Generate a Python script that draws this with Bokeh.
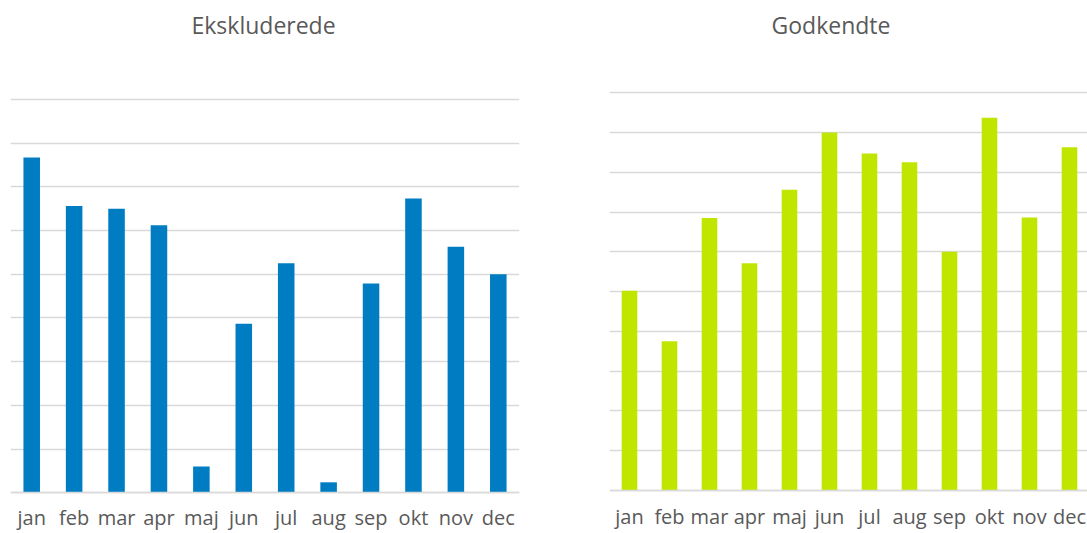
from bokeh.plotting import figure
from bokeh.layouts import row
from bokeh.models import FixedTicker, Range1d
from bokeh.embed import file_html
from bokeh.resources import INLINE

months = ["jan", "feb", "mar", "apr", "maj", "jun", "jul", "aug", "sep", "okt", "nov", "dec"]
ekskluderede = [7.67, 6.56, 6.50, 6.12, 0.60, 3.87, 5.25, 0.24, 4.79, 6.73, 5.63, 5.00]
godkendte = [5.02, 3.75, 6.85, 5.71, 7.56, 9.00, 8.47, 8.25, 6.00, 9.37, 6.86, 8.63]

FONT = "Open Sans"
TXT = "#595959"
GRID = "#d9d9d9"


def make(title, values, color, width, height, x_end, y_grid_max, y_start, y_end,
         b_left, b_right, b_top, t_offset, label_standoff):
    xs = list(range(len(months)))
    p = figure(width=width, height=height, output_backend="svg", toolbar_location=None,
               x_range=Range1d(-0.5, x_end), y_range=Range1d(y_start, y_end),
               min_border_left=b_left, min_border_right=b_right,
               min_border_top=b_top, min_border_bottom=0,
               outline_line_color=None, title=title)
    p.vbar(x=xs, top=values, width=0.39, fill_color=color, line_color=None)
    p.title.text_font = FONT
    p.title.text_font_size = "23px"
    p.title.text_font_style = "normal"
    p.title.text_color = TXT
    p.title.align = "left"
    p.title.offset = t_offset
    p.title.standoff = 12
    p.yaxis.visible = False
    p.xgrid.visible = False
    p.ygrid.ticker = FixedTicker(ticks=list(range(0, y_grid_max + 1)))
    p.ygrid.grid_line_color = GRID
    p.ygrid.grid_line_width = 1.6
    ax = p.xaxis[0]
    ax.fixed_location = 0
    ax.ticker = FixedTicker(ticks=xs)
    ax.major_label_overrides = {i: m for i, m in enumerate(months)}
    ax.axis_line_color = GRID
    ax.axis_line_width = 1.6
    ax.major_tick_line_color = None
    ax.minor_tick_line_color = None
    ax.major_tick_out = 0
    ax.major_tick_in = 0
    ax.minor_tick_out = 0
    ax.minor_tick_in = 0
    ax.major_label_text_font = FONT
    ax.major_label_text_font_size = "20px"
    ax.major_label_text_color = TXT
    ax.major_label_standoff = label_standoff
    return p


left = make("Ekskluderede", ekskluderede, "#007CC3", 548, 533, 11.5, 9, -0.931, 10.21,
            10, 29, 46, 181, 11)
right = make("Godkendte", godkendte, "#C0E600", 539, 533, 11.45, 10, -1.081, 11.16,
             61, 0, 46, 162, 13)

layout = row(left, right)
open("out.html", "w").write(file_html(layout, INLINE))
